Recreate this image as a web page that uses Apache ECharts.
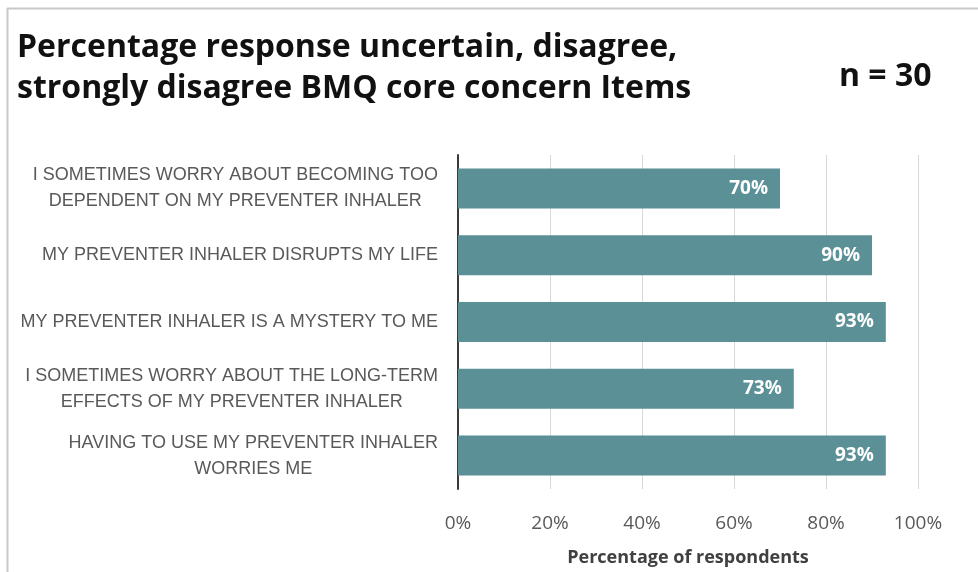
<!DOCTYPE html>
<html>
<head>
<meta charset="utf-8">
<script src="https://cdn.jsdelivr.net/npm/echarts@6/dist/echarts.min.js"></script>
<style>
  html, body { margin: 0; padding: 0; background: #fff; }
  #chart { width: 978px; height: 572px; }
</style>
</head>
<body>
<div id="chart"></div>
<script>
// items, top to bottom as in the picture
var items = [
    'I SOMETIMES WORRY ABOUT BECOMING TOO\nDEPENDENT ON MY PREVENTER INHALER',
    'MY PREVENTER INHALER DISRUPTS MY LIFE',
    'MY PREVENTER INHALER IS A MYSTERY TO ME',
    'I SOMETIMES WORRY ABOUT THE LONG-TERM\nEFFECTS OF MY PREVENTER INHALER',
    'HAVING TO USE MY PREVENTER INHALER\nWORRIES ME'
];
var percents = [70, 90, 93, 73, 93];
var xTicks = [0, 20, 40, 60, 80, 100];

var barColor = '#5b9097';
var textGray = '#595959';

var option = {
    backgroundColor: '#fff',
    animation: false,
    title: [{
        text: 'Percentage response uncertain, disagree,\nstrongly disagree BMQ core concern Items',
        left: 12,
        top: 22,
        textStyle: {
            fontFamily: 'Open Sans',
            fontWeight: 'bold',
            fontSize: 32,
            lineHeight: 41,
            color: '#111'
        }
    }, {
        text: 'n = 30',
        left: 834,
        top: 56,
        textStyle: {
            fontFamily: 'Open Sans',
            fontWeight: 'bold',
            fontSize: 32,
            color: '#111'
        }
    }],
    graphic: [
        { type: 'line', shape: { x1: 7, y1: 8.5, x2: 978, y2: 8.5 }, style: { stroke: '#c8c8c8', lineWidth: 2 } },
        { type: 'line', shape: { x1: 7.5, y1: 8, x2: 7.5, y2: 572 }, style: { stroke: '#c8c8c8', lineWidth: 2 } }
    ],
    grid: {
        left: 458,
        right: 60,
        top: 155,
        bottom: 82,
        containLabel: false
    },
    xAxis: {
        type: 'value',
        min: 0,
        max: 100,
        interval: 20,
        name: 'Percentage of respondents',
        nameLocation: 'middle',
        nameGap: 60,
        nameTextStyle: {
            fontFamily: 'Open Sans',
            fontWeight: 'bold',
            fontSize: 18,
            color: '#404040'
        },
        axisLine: { show: false },
        axisTick: { show: false },
        axisLabel: {
            margin: 25,
            fontFamily: 'Open Sans',
            fontSize: 19,
            color: textGray,
            formatter: function (v) { return xTicks.indexOf(v) >= 0 ? v + '%' : ''; }
        },
        splitLine: { show: true, lineStyle: { color: '#d9d9d9', width: 1 } }
    },
    yAxis: {
        type: 'category',
        inverse: true,
        data: items,
        axisLine: { show: true, lineStyle: { color: '#3a3a3a', width: 2 } },
        axisTick: { show: false },
        axisLabel: {
            margin: 20,
            align: 'right',
            color: textGray,
            formatter: function (v) {
                return v.split('\n').map(function (s) { return '{c|' + s + '}'; }).join('\n');
            },
            rich: {
                c: {
                    align: 'center',
                    fontFamily: 'Liberation Sans',
                    fontSize: 18,
                    lineHeight: 26,
                    color: textGray
                }
            }
        }
    },
    series: [{
        type: 'bar',
        data: percents,
        barWidth: 40,
        itemStyle: { color: barColor },
        label: {
            show: true,
            position: 'insideRight',
            distance: 12,
            formatter: '{c}%',
            fontFamily: 'Open Sans',
            fontWeight: 'bold',
            fontSize: 19,
            color: '#fff'
        }
    }]
};

var chart = echarts.init(document.getElementById('chart'));
chart.setOption(option);
</script>
</body>
</html>
